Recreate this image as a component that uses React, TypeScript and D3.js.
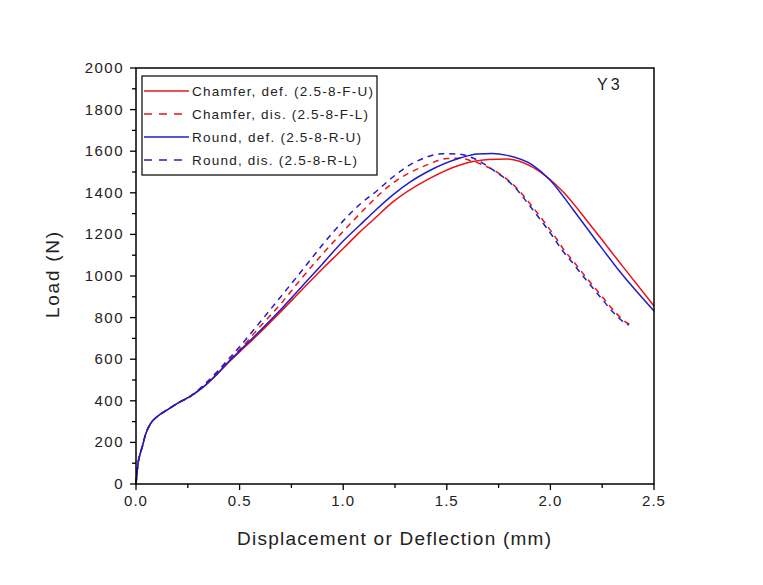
import React from "react";
import * as d3 from "d3";

const xTicks = [0, 0.5, 1.0, 1.5, 2.0, 2.5];
const yTicks = [0, 200, 400, 600, 800, 1000, 1200, 1400, 1600, 1800, 2000];

const early: [number, number][] = [
  [0, 0], [0.005, 55], [0.01, 100], [0.02, 145], [0.03, 178], [0.045, 235], [0.07, 290],
  [0.1, 322], [0.15, 356], [0.2, 388], [0.26, 420],
];

const chamferDef: [number, number][] = [
  ...early,
  [0.32, 462], [0.39, 526], [0.45, 588], [0.5, 635], [0.6, 730], [0.7, 830], [0.8, 933],
  [0.9, 1035], [1.0, 1132], [1.081, 1212], [1.144, 1269], [1.24, 1356], [1.404, 1462],
  [1.564, 1534], [1.626, 1550], [1.7, 1560], [1.791, 1562], [1.916, 1522], [2.061, 1405],
  [2.206, 1228], [2.35, 1045], [2.5, 856],
];

const chamferDis: [number, number][] = [
  ...early,
  [0.32, 466], [0.39, 532], [0.45, 596], [0.5, 646], [0.6, 758], [0.7, 868], [0.8, 990],
  [0.9, 1105], [1.0, 1215], [1.081, 1300], [1.24, 1447], [1.404, 1534], [1.501, 1565],
  [1.56, 1566], [1.612, 1556], [1.66, 1540], [1.757, 1490], [1.83, 1430], [1.926, 1317],
  [1.974, 1255], [2.023, 1188], [2.066, 1125], [2.114, 1067], [2.163, 1005], [2.211, 947],
  [2.259, 889], [2.312, 827], [2.37, 774], [2.403, 760],
];

const roundDef: [number, number][] = [
  ...early,
  [0.32, 463], [0.39, 528], [0.45, 591], [0.5, 640], [0.6, 738], [0.7, 840], [0.79, 938],
  [0.9, 1058], [1.0, 1168], [1.081, 1245], [1.16, 1320], [1.24, 1390], [1.32, 1450],
  [1.404, 1500], [1.564, 1567], [1.646, 1587], [1.72, 1589], [1.791, 1580], [1.916, 1532],
  [1.998, 1462], [2.109, 1320], [2.225, 1165], [2.336, 1020], [2.5, 832],
];

const roundDis: [number, number][] = [
  ...early,
  [0.32, 470], [0.39, 538], [0.45, 604], [0.5, 660], [0.6, 780], [0.7, 902], [0.8, 1025],
  [0.9, 1150], [1.0, 1265], [1.081, 1345], [1.163, 1410], [1.24, 1476], [1.322, 1534],
  [1.404, 1572], [1.482, 1588], [1.564, 1585], [1.626, 1567], [1.723, 1510], [1.82, 1435],
  [1.916, 1317], [1.964, 1255], [2.013, 1188], [2.056, 1125], [2.104, 1067], [2.153, 1005],
  [2.201, 947], [2.249, 889], [2.302, 827], [2.36, 774], [2.378, 764],
];

const RED = "#e8141a";
const BLUE = "#1e1ec8";

const seriesNames = [
  "Chamfer, def. (2.5-8-F-U)",
  "Chamfer, dis. (2.5-8-F-L)",
  "Round, def. (2.5-8-R-U)",
  "Round, dis. (2.5-8-R-L)",
];

export default function App() {
  const W = 763, H = 585;
  const left = 136, right = 654, top = 68, bottom = 484;
  const x = d3.scaleLinear().domain([0, 2.5]).range([left, right]);
  const y = d3.scaleLinear().domain([0, 2000]).range([bottom, top]);
  const line = d3
    .line<[number, number]>()
    .x((d) => x(d[0]))
    .y((d) => y(d[1]))
    .curve(d3.curveMonotoneX);

  const series = [
    { name: seriesNames[0], data: chamferDef, color: RED, dash: undefined as string | undefined, tl: 181 },
    { name: seriesNames[1], data: chamferDis, color: RED, dash: "6,5", tl: 176 },
    { name: seriesNames[2], data: roundDef, color: BLUE, dash: undefined, tl: 169 },
    { name: seriesNames[3], data: roundDis, color: BLUE, dash: "6,5", tl: 165 },
  ];

  const xMinor = d3.range(0, 2.5001, 0.25);
  const yMinor = d3.range(0, 2000.1, 100);
  const font = "'Liberation Sans', Arial, sans-serif";
  const legendY = [91, 114, 137, 160];

  return (
    <svg
      width={W}
      height={H}
      style={{ position: "absolute", left: 0, top: 0, background: "#fff" }}
      fontFamily={font}
    >
      <rect x={0} y={0} width={W} height={H} fill="#fff" />
      {series.map((s, i) => (
        <path
          key={i}
          d={line(s.data) || ""}
          fill="none"
          stroke={s.color}
          strokeWidth={1.5}
          strokeDasharray={s.dash}
        />
      ))}
      <rect x={left} y={top} width={right - left} height={bottom - top} fill="none" stroke="#000" strokeWidth={1.5} />
      {xMinor.map((v, i) => {
        const major = Math.abs(v * 2 - Math.round(v * 2)) < 1e-6;
        return (
          <line key={"xm" + i} x1={x(v)} x2={x(v)} y1={bottom} y2={bottom + (major ? 6 : 4)} stroke="#000" strokeWidth={1.3} />
        );
      })}
      {xTicks.map((v, i) => (
        <text key={"xt" + i} x={x(v)} y={506} textAnchor="middle" fontSize={15} letterSpacing={1} fill="#222">
          {v.toFixed(1)}
        </text>
      ))}
      {yMinor.map((v, i) => {
        const major = Math.round(v) % 200 === 0;
        return (
          <line key={"ym" + i} x1={left} x2={left - (major ? 6 : 4)} y1={y(v)} y2={y(v)} stroke="#000" strokeWidth={1.3} />
        );
      })}
      {yTicks.map((v, i) => (
        <text key={"yt" + i} x={124} y={y(v) + 5} textAnchor="end" fontSize={15} letterSpacing={1.5} fill="#222">
          {v}
        </text>
      ))}
      <text x={394} y={545} textAnchor="middle" fontSize={19} fill="#222" textLength={314} lengthAdjust="spacing">
        Displacement or Deflection (mm)
      </text>
      <text
        transform={`translate(59, 275) rotate(-90)`}
        textAnchor="middle"
        fontSize={19}
        fill="#222"
        textLength={86}
        lengthAdjust="spacing"
      >
        Load (N)
      </text>
      <text x={597} y={90} fontSize={16} letterSpacing={3} fill="#222">
        Y3
      </text>
      <rect x={142} y={76} width={235} height={99} fill="#fff" stroke="#000" strokeWidth={1.2} />
      {series.map((s, i) => (
        <g key={"lg" + i}>
          <line
            x1={144}
            x2={189}
            y1={legendY[i]}
            y2={legendY[i]}
            stroke={s.color}
            strokeWidth={1.5}
            strokeDasharray={s.dash ? "8,7" : undefined}
          />
          <text x={192} y={legendY[i] + 5} fontSize={13.5} fill="#222" textLength={s.tl} lengthAdjust="spacing">
            {s.name}
          </text>
        </g>
      ))}
    </svg>
  );
}
